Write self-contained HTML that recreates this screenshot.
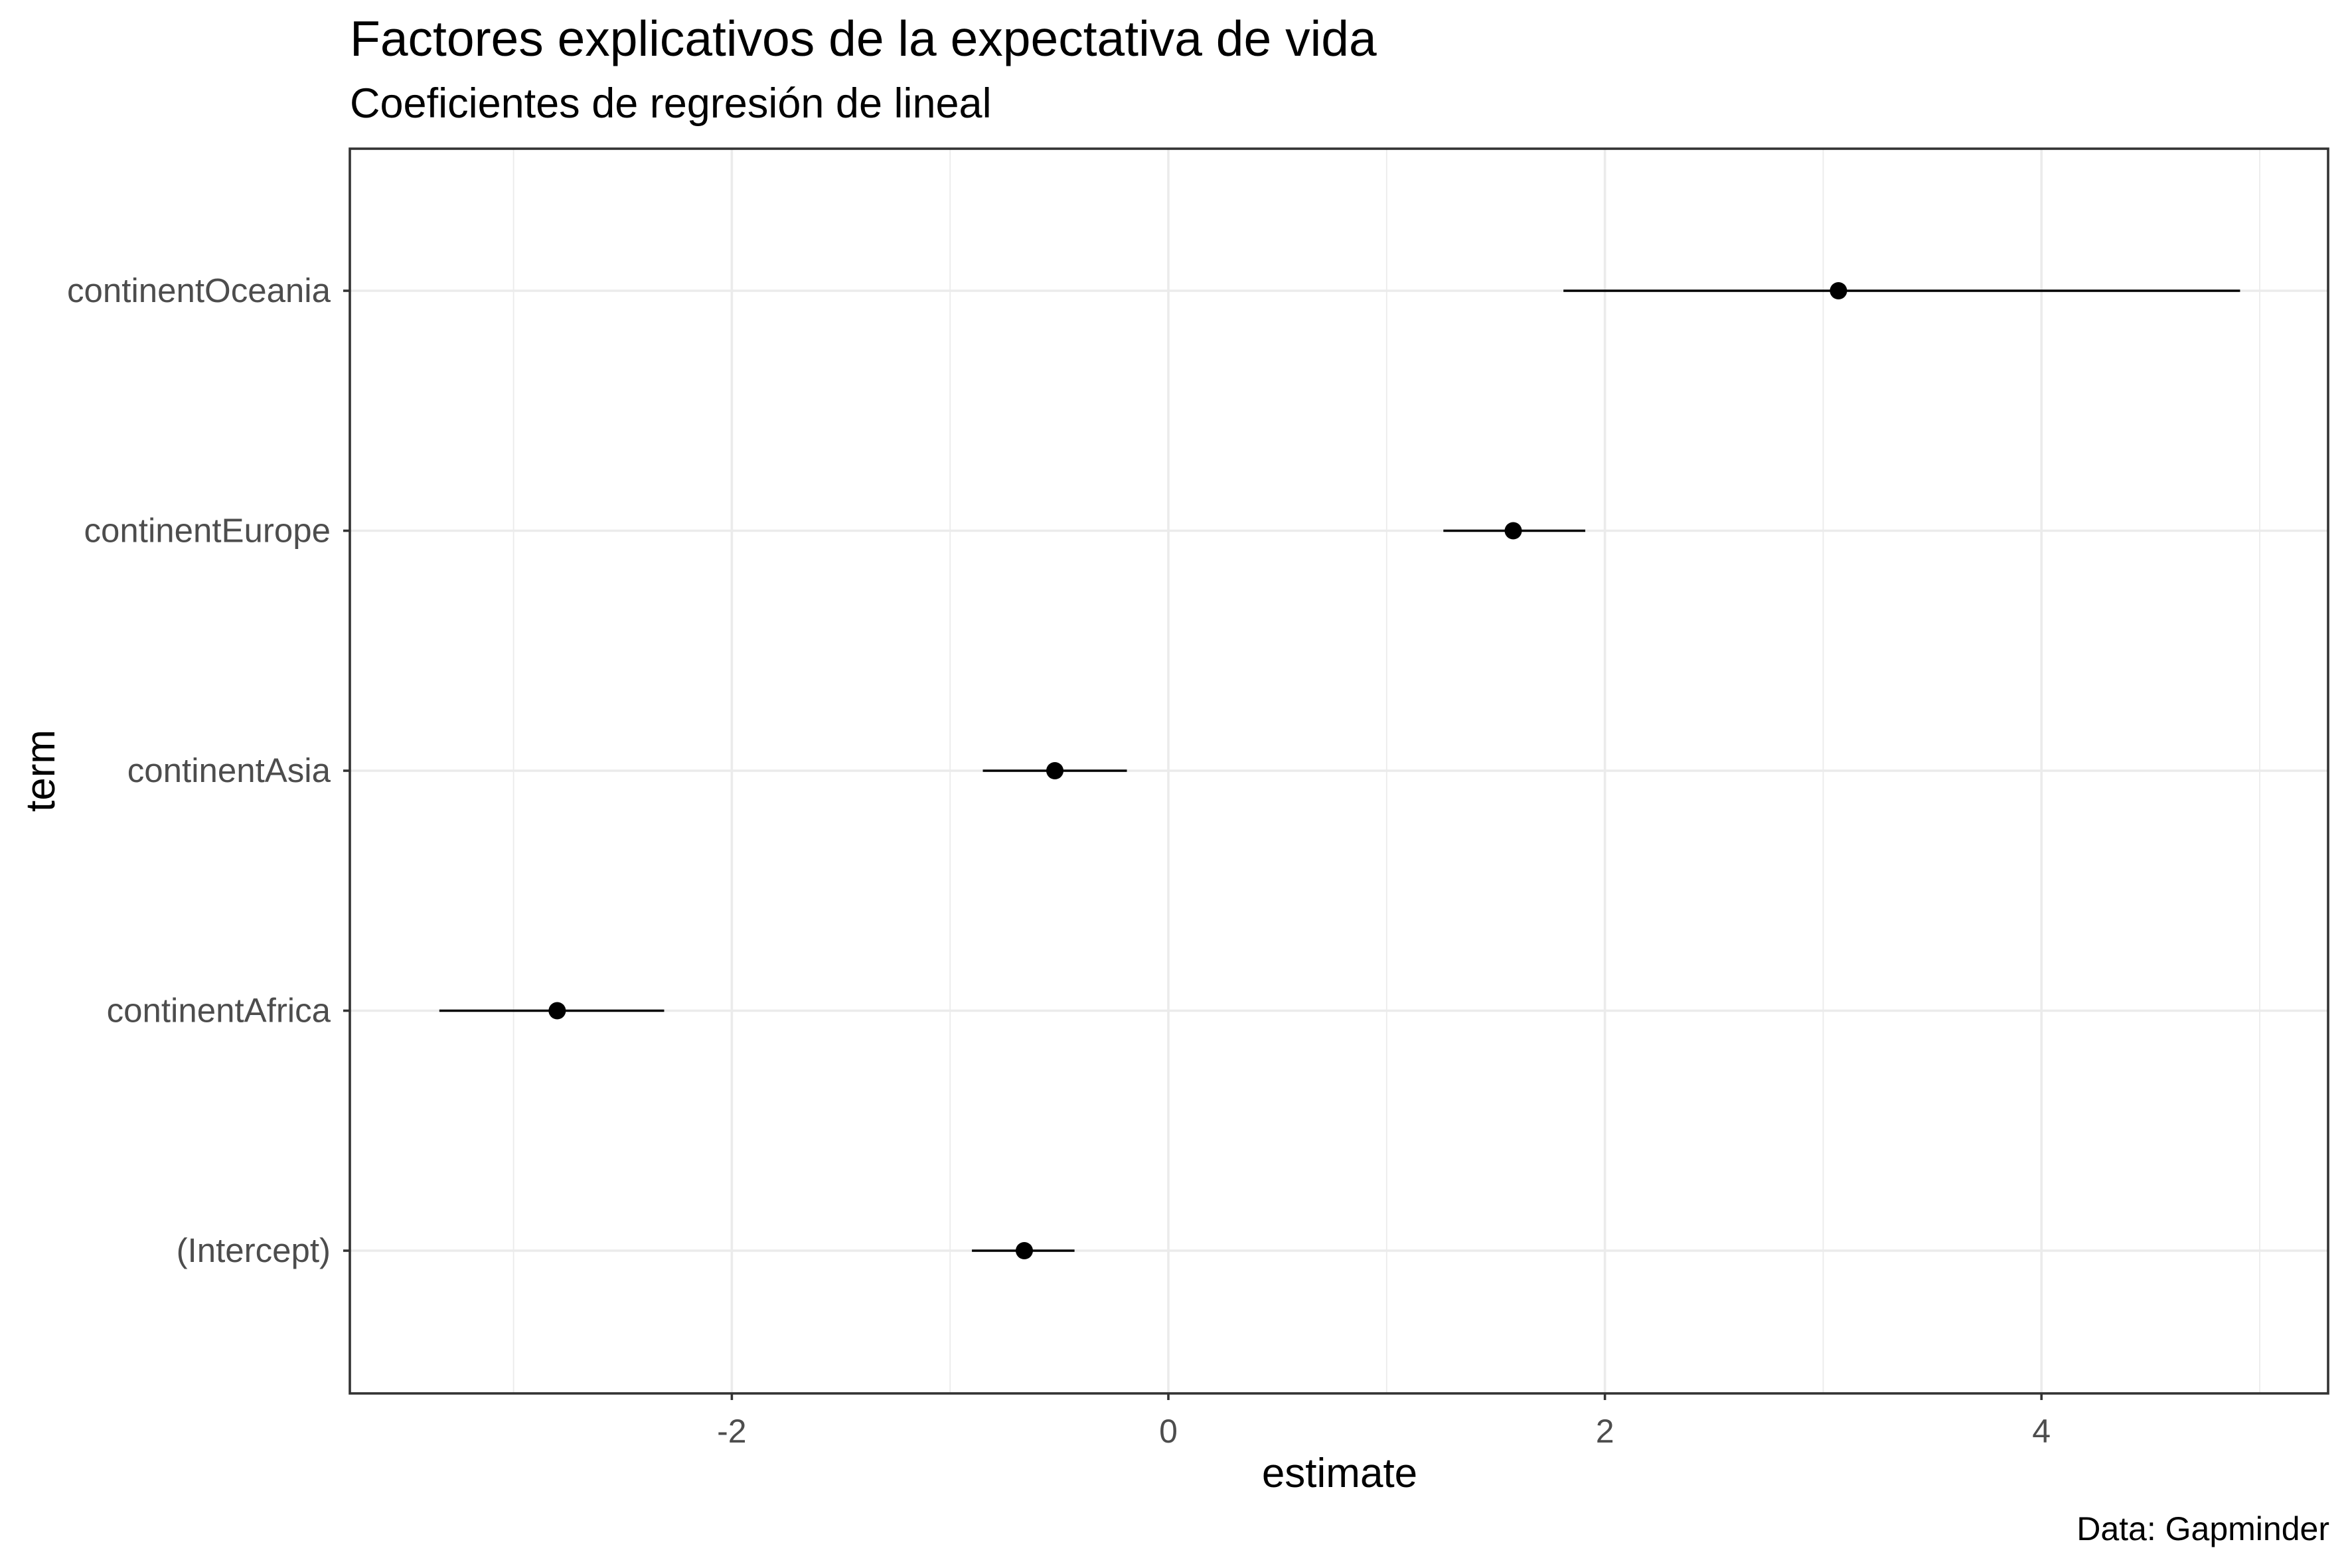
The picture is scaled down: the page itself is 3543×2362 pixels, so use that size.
<!DOCTYPE html>
<html><head><meta charset="utf-8"><style>
html,body{margin:0;padding:0;background:#fff;}
svg{display:block;font-family:"Liberation Sans",Arial,sans-serif;}
</style></head><body>
<svg id="chart" width="3543" height="2362" viewBox="0 0 3543 2362" xmlns="http://www.w3.org/2000/svg">
<rect width="3543" height="2362" fill="#fff"/>
<text x="527" y="84" font-size="75" fill="#000">Factores explicativos de la expectativa de vida</text>
<text x="527" y="177" font-size="63" fill="#000">Coeficientes de regresión de lineal</text>
<g id="grid"></g>
<g id="marks"></g>
<rect x="527" y="224" width="2980" height="1875" fill="none" stroke="#333" stroke-width="3.6"/>
<g id="axes"></g>
<text x="2018" y="2240" font-size="62" text-anchor="middle" fill="#000">estimate</text>
<text transform="translate(82,1161) rotate(-90)" font-size="62" text-anchor="middle" fill="#000">term</text>
<text x="3509" y="2320" font-size="50" text-anchor="end" fill="#000">Data: Gapminder</text>
</svg>
<script>
const terms = ["(Intercept)","continentAfrica","continentAsia","continentEurope","continentOceania"];
const estimates = [-0.66,-2.80,-0.52,1.58,3.07];
const confLow = [-0.90,-3.34,-0.85,1.26,1.81];
const confHigh = [-0.43,-2.31,-0.19,1.91,4.91];
const xMajorTicks = [-2,0,2,4];
const xMinorTicks = [-3,-1,1,3,5];
const xTickLabels = ["-2","0","2","4"];

const NS="http://www.w3.org/2000/svg";
const PL=527, PR=3507, PT=224, PB=2099;
const X0=1760, XU=328.8;
function xs(v){return X0+v*XU;}
function ys(i){return 1884-i*361.5;}
function mk(tag,attrs,parent){const e=document.createElementNS(NS,tag);for(const k in attrs)e.setAttribute(k,attrs[k]);parent.appendChild(e);return e;}
const grid=document.getElementById('grid'), marks=document.getElementById('marks'), axes=document.getElementById('axes');
xMinorTicks.forEach(v=>{const l=mk('line',{x1:xs(v),x2:xs(v),y1:PT,y2:PB,stroke:'#ebebeb','stroke-width':1.8},grid);

});
xMajorTicks.forEach((v,i)=>{const l=mk('line',{x1:xs(v),x2:xs(v),y1:PT,y2:PB,stroke:'#ebebeb','stroke-width':3.6},grid);


const t=mk('line',{x1:xs(v),x2:xs(v),y1:PB,y2:PB+10,stroke:'#333','stroke-width':3.6},axes);


const tx=mk('text',{x:xs(v),y:PB+74,'font-size':50,'text-anchor':'middle',fill:'#4d4d4d'},axes);
tx.textContent=xTickLabels[i];

});
terms.forEach((t,i)=>{const y=ys(i);
const g=mk('line',{x1:PL,x2:PR,y1:y,y2:y,stroke:'#ebebeb','stroke-width':3.6},grid);


const tk=mk('line',{x1:PL-10,x2:PL,y1:y,y2:y,stroke:'#333','stroke-width':3.6},axes);


const lb=mk('text',{x:PL-29,y:y+17,'font-size':51,'text-anchor':'end',fill:'#4d4d4d'},axes);
lb.textContent=t;


const ci=mk('line',{x1:xs(confLow[i]),x2:xs(confHigh[i]),y1:y,y2:y,stroke:'#000','stroke-width':3.4},marks);


const p=mk('circle',{cx:xs(estimates[i]),cy:y,r:13,fill:'#000'},marks);

});
</script>
</body></html>
